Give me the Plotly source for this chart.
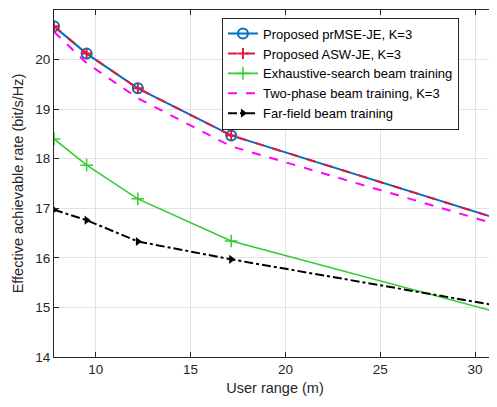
import plotly.graph_objects as go

x_range = [7.8, 9.52, 12.22, 17.14, 31.1]
prmse = [20.67, 20.12, 19.42, 18.47, 16.80]
asw = [20.67, 20.12, 19.42, 18.47, 16.80]
exhaustive = [18.40, 17.87, 17.19, 16.34, 14.91]
two_phase = [20.56, 19.93, 19.22, 18.25, 16.68]
far_field = [16.97, 16.76, 16.33, 15.97, 15.04]

names = ["Proposed prMSE-JE, K=3", "Proposed ASW-JE, K=3", "Exhaustive-search beam training",
         "Two-phase beam training, K=3", "Far-field beam training"]

fig = go.Figure()
fig.add_trace(go.Scatter(x=x_range, y=prmse, name=names[0], mode="lines+markers",
                         line=dict(color="#0072BD", width=2),
                         marker=dict(symbol="circle-open", size=10, color="#0072BD", line=dict(width=2))))
fig.add_trace(go.Scatter(x=x_range, y=asw, name=names[1], mode="lines+markers",
                         line=dict(color="#E0183F", width=2, dash="dash"),
                         marker=dict(symbol="cross-thin-open", size=8, color="#E0183F", line=dict(width=2, color="#E0183F"))))
fig.add_trace(go.Scatter(x=x_range, y=exhaustive, name=names[2], mode="lines+markers",
                         line=dict(color="#33CC33", width=1.6),
                         marker=dict(symbol="cross-thin-open", size=9, color="#33CC33", line=dict(width=1.5, color="#33CC33"))))
fig.add_trace(go.Scatter(x=x_range, y=two_phase, name=names[3], mode="lines",
                         line=dict(color="#FF00FF", width=2, dash="dash")))
fig.add_trace(go.Scatter(x=x_range, y=far_field, name=names[4], mode="lines+markers",
                         line=dict(color="black", width=2, dash="dashdot"),
                         marker=dict(symbol="triangle-right", size=8, color="black")))

axis_common = dict(showgrid=True, gridcolor="#E3E3E3", gridwidth=1, showline=True, linecolor="#262626",
                   linewidth=1, mirror="ticks", ticks="inside", ticklen=5, tickcolor="#262626",
                   tickfont=dict(family="Liberation Sans, Arial", size=13.5, color="#262626"), zeroline=False)

fig.update_layout(
    width=489, height=399,
    margin=dict(l=46, r=1, t=2, b=50),
    paper_bgcolor="white", plot_bgcolor="white",
    font=dict(family="Liberation Sans, Arial", color="#262626"),
    xaxis=dict(range=[7.8, 31.1], tickvals=[10, 15, 20, 25, 30],
               title=dict(text="User range (m)", font=dict(size=14.5), standoff=6), **axis_common),
    yaxis=dict(range=[14, 21], tickvals=[14, 15, 16, 17, 18, 19, 20, 21],
               title=dict(text="Effective achievable rate (bit/s/Hz)", font=dict(size=14.5), standoff=8), **axis_common),
    legend=dict(x=0.38, y=0.978, xanchor="left", yanchor="top", bgcolor="white",
                bordercolor="#262626", borderwidth=1, font=dict(size=13, color="black"),
                tracegroupgap=0, itemwidth=30),
    showlegend=True,
)

fig.write_html("out.html")
